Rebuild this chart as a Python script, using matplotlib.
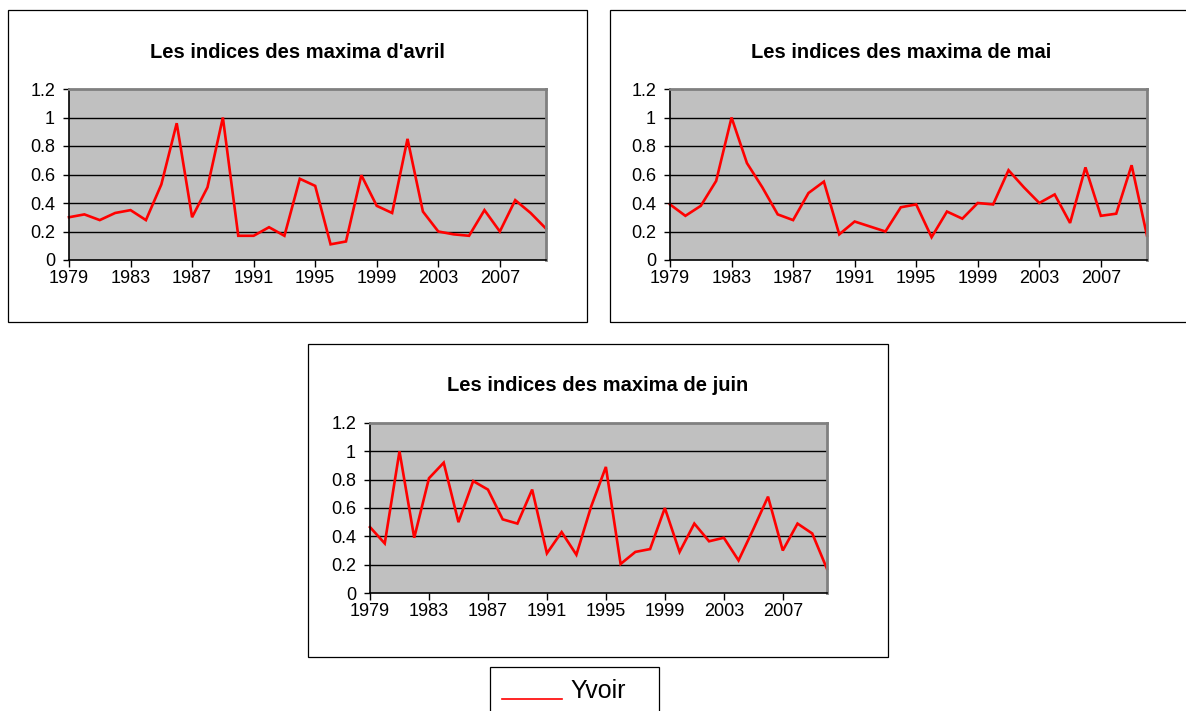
import matplotlib
matplotlib.use("Agg")
import matplotlib.pyplot as plt
from matplotlib.patches import Rectangle
from matplotlib.lines import Line2D

plt.rcParams["font.family"] = ["Liberation Sans", "DejaVu Sans"]

years = list(range(1979, 2011))
tick_years = [1979, 1983, 1987, 1991, 1995, 1999, 2003, 2007]
y_ticks = [0, 0.2, 0.4, 0.6, 0.8, 1, 1.2]
y_labels = ["0", "0.2", "0.4", "0.6", "0.8", "1", "1.2"]

avril = [0.30, 0.32, 0.28, 0.33, 0.35, 0.28, 0.53, 0.96, 0.30, 0.51,
         1.00, 0.17, 0.17, 0.23, 0.17, 0.57, 0.52, 0.11, 0.13, 0.595,
         0.38, 0.33, 0.85, 0.34, 0.20, 0.18, 0.17, 0.35, 0.20, 0.42,
         0.33, 0.22]
mai = [0.39, 0.31, 0.38, 0.555, 1.00, 0.68, 0.51, 0.32, 0.28, 0.47,
       0.55, 0.18, 0.27, 0.235, 0.20, 0.37, 0.39, 0.16, 0.34, 0.29,
       0.40, 0.39, 0.63, 0.51, 0.40, 0.46, 0.26, 0.65, 0.31, 0.325,
       0.665, 0.17]
juin = [0.465, 0.35, 1.00, 0.39, 0.81, 0.92, 0.50, 0.79, 0.73, 0.52,
        0.49, 0.73, 0.28, 0.43, 0.27, 0.61, 0.89, 0.205, 0.29, 0.31,
        0.60, 0.29, 0.49, 0.365, 0.39, 0.23, 0.45, 0.68, 0.30, 0.49,
        0.42, 0.17]

titles = ["Les indices des maxima d'avril",
          "Les indices des maxima de mai",
          "Les indices des maxima de juin"]
series = [avril, mai, juin]
legend_label = "Yvoir"

W, H = 1186, 711
fig = plt.figure(figsize=(W / 100, H / 100), dpi=100)


def px_rect(x0, y0, x1, y1):
    # pixel box (top-left origin) -> figure fraction
    return [x0 / W, 1 - y1 / H, (x1 - x0) / W, (y1 - y0) / H]


def frame(x0, y0, x1, y1):
    fig.patches.append(Rectangle((x0 / W, 1 - y1 / H), (x1 - x0) / W, (y1 - y0) / H,
                                 transform=fig.transFigure, fill=False,
                                 edgecolor="black", linewidth=0.9))


# chart boxes and plot areas (pixels)
boxes = [(8, 10, 587, 322), (610, 10, 1192, 322), (308, 344, 888, 657)]
areas = [(69, 89, 546, 260), (670, 89, 1147, 260), (370, 423, 827, 593)]

for box, area, title, vals in zip(boxes, areas, titles, series):
    frame(*box)
    ax = fig.add_axes(px_rect(*area))
    ax.set_facecolor("#C0C0C0")
    ax.plot(years, vals, color="red", linewidth=1.9, solid_joinstyle="miter", clip_on=False)
    ax.set_xlim(years[0], years[-1])
    ax.set_ylim(0, 1.2)
    ax.set_yticks(y_ticks)
    ax.set_yticklabels(y_labels, fontsize=13)
    ax.set_xticks(tick_years)
    ax.set_xticklabels([str(t) for t in tick_years], fontsize=13)
    for yv in y_ticks[1:-1]:
        ax.axhline(yv, color="black", linewidth=1.0, zorder=1)
    ax.tick_params(axis="y", length=4, width=1, direction="out", pad=6)
    ax.tick_params(axis="x", length=5, width=1, direction="out", pad=2)
    for side in ["top", "right"]:
        ax.spines[side].set_color("#808080")
        ax.spines[side].set_linewidth(2)
    for side in ["left", "bottom"]:
        ax.spines[side].set_color("black")
        ax.spines[side].set_linewidth(1.2)
    # title centred on the chart box
    cx = (box[0] + box[2]) / 2 / W
    fig.text(cx, 1 - (area[1] - 37) / H, title, ha="center", va="center",
             fontsize=14.5, fontweight="bold")

# legend box
frame(490, 667, 659, 716)
fig.add_artist(Line2D([502 / W, 562 / W], [1 - 699 / H, 1 - 699 / H],
                      color="red", linewidth=1.2))
fig.text(570 / W, 1 - 691 / H, legend_label, ha="left", va="center", fontsize=18)

fig.savefig("out.png", dpi=100)
